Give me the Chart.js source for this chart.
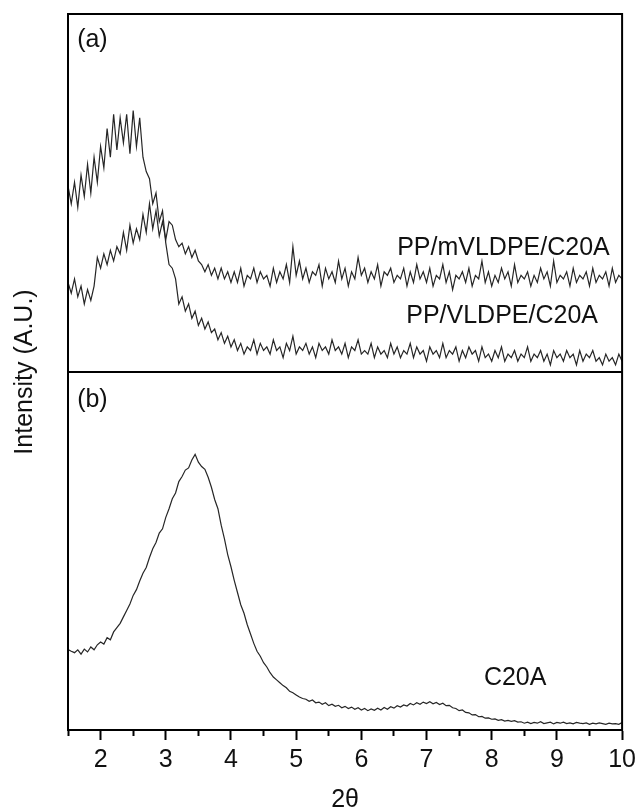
<!DOCTYPE html>
<html>
<head>
<meta charset="utf-8">
<title>XRD patterns</title>
<script src="https://cdn.jsdelivr.net/npm/chart.js@4.4.1/dist/chart.umd.min.js"></script>
<style>
  body { margin: 0; background: #fff; }
  #wrap { width: 641px; height: 811px; }
</style>
</head>
<body>
<div id="wrap"><canvas id="xrdChart"></canvas></div>
<script>
// scan grid (2theta, degrees)
const thetaStart = 1.5;
const thetaStep = 0.05;

// panel (a): PP/VLDPE/C20A, arbitrary units
const vldpe = [
  52,47,53,46,55,49,58,50,60,53,
  63,57,68,60,72,62,71,64,72,61,
  73,63,71,60,56,54,47,50,42,45,
  36,30,29,26,19,21,17,19,15,17,
  13,15,12,14,11,12,9,11,8,10,
  7,
  9,6,8,5,7,6,9,5,8,6, 7,5,9,6,7,4,8,6,10,5,
  7,6,8,5,7,4,8,6,7,5, 9,6,7,5,8,4,7,6,9,5,
  6,5,8,4,7,5,6,4,8,5, 7,4,6,5,8,4,7,5,6,3,
  7,5,6,4,8,4,6,5,7,3, 6,4,7,5,6,3,7,4,5,3,
  6,4,7,3,5,4,6,3,5,4, 7,3,5,4,6,3,5,2,6,4,
  5,3,6,4,5,2,6,3,5,4, 6,3,4,2,5,3,4,2,5,3
];

// panel (a): PP/mVLDPE/C20A
const mvldpe = [
  25,22,26,21,24,19,23,20,24,32,
  29,33,30,34,31,35,33,39,34,41,
  36,40,37,44,39,47,40,45,38,42,
  37,42,41,37,35,36,33,35,32,34,
  31,30,28,30,27,29,26,29,26,28,
  25,
  28,25,29,24,27,26,29,25,28,26, 27,24,29,25,28,26,30,25,35,27,
  31,26,29,25,28,27,30,24,29,26, 28,25,31,26,29,24,28,26,32,27,
  29,25,28,26,30,24,28,27,29,25, 27,26,29,24,28,25,30,26,28,25,
  29,24,27,26,30,25,28,23,27,26, 28,25,29,24,27,26,31,25,28,24,
  27,25,29,26,28,24,30,25,27,26, 28,24,27,25,29,26,28,24,31,25,
  27,26,28,24,29,25,27,26,28,24, 29,25,27,26,28,24,29,25,27,26
];

// panel (b): C20A
const c20a = [
  22.5,22.0,21.6,22.4,21.2,22.6,21.8,23.2,22.4,23.8,
  24.6,24.0,25.8,25.2,27.4,28.6,29.8,31.6,33.4,35.2,
  37.6,39.2,41.6,43.8,45.4,48.2,50.6,52.4,55.0,56.2,
  59.4,61.8,64.6,66.2,69.4,70.8,72.6,73.2,75.4,77.0,
  74.8,73.6,72.8,70.6,67.8,64.4,61.8,57.2,53.4,49.0,
  45.6,41.8,38.4,35.0,32.6,29.4,26.8,24.2,22.0,20.6,
  18.8,17.6,16.0,14.8,14.0,13.2,12.4,11.8,10.8,10.4,
  9.8,9.2,8.8,8.6,8.0,8.4,7.6,7.8,7.2,7.6,
  6.8,7.2,6.6,6.9,6.2,6.6,6.0,6.4,5.8,6.2,
  5.6,6.0,5.4,5.9,5.5,6.1,5.6,6.3,5.8,6.5,
  6.1,6.8,6.4,7.0,6.7,7.4,7.0,7.6,7.2,7.8,
  7.4,7.9,7.3,7.7,7.1,7.5,6.8,6.9,6.2,6.0,
  5.4,5.6,4.9,4.8,4.2,4.3,3.7,3.8,3.3,3.4,
  3.0,3.1,2.7,2.9,2.5,2.7,2.4,2.6,2.2,2.3,
  1.9,2.2,1.8,2.1,1.9,2.3,1.8,2.0,2.2,1.7,
  2.1,1.9,2.2,1.8,2.0,1.7,2.1,1.9,1.8,2.0,
  1.6,1.9,1.7,2.0,1.8,1.6,1.9,1.7,1.8,1.6,
  2.1
];

// x axis ticks (labels only on whole numbers)
const xTicks = [1.5,2,2.5,3,3.5,4,4.5,5,5.5,6,6.5,7,7.5,8,8.5,9,9.5,10];

const toPoints = arr => arr.map((v, i) => ({ x: +(thetaStart + i * thetaStep).toFixed(2), y: v }));

const FONT = 'Liberation Sans, Arial, sans-serif';

// text labels inside the panels
const panelLabels = {
  id: 'panelLabels',
  afterDatasetsDraw(chart, args, opts) {
    const ctx = chart.ctx;
    const xs = chart.scales.x;
    ctx.save();
    ctx.fillStyle = '#111';
    ctx.font = '25px ' + FONT;
    ctx.textBaseline = 'middle';
    opts.items.forEach(it => {
      ctx.textAlign = it.align;
      ctx.fillText(it.text, xs.getPixelForValue(it.x), chart.scales[it.axis].getPixelForValue(it.y));
    });
    ctx.restore();
  }
};

// box round both panels + the divider
const frame = {
  id: 'frame',
  afterDraw(chart) {
    const { ctx, chartArea: a } = chart;
    const mid = chart.scales.yA.bottom;
    ctx.save();
    ctx.strokeStyle = '#000';
    ctx.lineWidth = 2;
    ctx.strokeRect(a.left, a.top, a.right - a.left, a.bottom - a.top);
    ctx.beginPath();
    ctx.moveTo(a.left, mid);
    ctx.lineTo(a.right, mid);
    ctx.stroke();
    ctx.restore();
  }
};

const hiddenY = {
  type: 'linear',
  position: 'left',
  stack: 'panels',
  stackWeight: 1,
  min: 0,
  max: 100,
  ticks: { display: false },
  grid: { display: false, drawTicks: false },
  border: { display: false }
};

const lineStyle = { borderColor: '#262626', borderWidth: 1.2, pointRadius: 0, fill: false, tension: 0 };

new Chart(document.getElementById('xrdChart'), {
  type: 'line',
  data: {
    datasets: [
      Object.assign({ label: 'PP/VLDPE/C20A', data: toPoints(vldpe), yAxisID: 'yA' }, lineStyle),
      Object.assign({ label: 'PP/mVLDPE/C20A', data: toPoints(mvldpe), yAxisID: 'yA' }, lineStyle),
      Object.assign({ label: 'C20A', data: toPoints(c20a), yAxisID: 'yB' }, lineStyle)
    ]
  },
  options: {
    responsive: true,
    maintainAspectRatio: false,
    animation: false,
    layout: { padding: { top: 14, right: 13, left: 8, bottom: 0 } },
    plugins: {
      legend: { display: false },
      tooltip: { enabled: false },
      panelLabels: {
        items: [
          { text: '(a)', x: 1.64, y: 92.7, axis: 'yA', align: 'left' },
          { text: 'PP/mVLDPE/C20A', x: 9.81, y: 34.5, axis: 'yA', align: 'right' },
          { text: 'PP/VLDPE/C20A', x: 9.63, y: 15.6, axis: 'yA', align: 'right' },
          { text: '(b)', x: 1.64, y: 92.2, axis: 'yB', align: 'left' },
          { text: 'C20A', x: 7.88, y: 14.5, axis: 'yB', align: 'left' }
        ]
      }
    },
    scales: {
      x: {
        type: 'linear',
        min: 1.5,
        max: 10,
        afterBuildTicks: ax => { ax.ticks = xTicks.map(v => ({ value: v })); },
        afterFit: ax => { ax.height = 81; },
        grid: {
          drawOnChartArea: false,
          drawTicks: true,
          tickLength: 10,
          tickColor: '#000',
          tickWidth: 2,
          tickBorderDash: c => (Number.isInteger(c.tick.value) ? [] : [5, 20])
        },
        border: { display: true, color: '#000', width: 2 },
        ticks: {
          color: '#111',
          autoSkip: false,
          maxRotation: 0,
          padding: 5,
          font: { size: 25, family: FONT },
          callback: v => (Number.isInteger(v) ? v : '')
        },
        title: {
          display: true,
          text: '2θ',
          color: '#111',
          font: { size: 25, family: FONT, lineHeight: 0.88 },
          padding: { top: 0, bottom: 0 }
        }
      },
      yB: hiddenY,
      yA: Object.assign({}, hiddenY),
      yT: {
        type: 'linear',
        position: 'left',
        weight: 10,
        min: 0,
        max: 1,
        ticks: { display: false },
        grid: { display: false, drawTicks: false },
        border: { display: false },
        title: {
          display: true,
          text: 'Intensity (A.U.)',
          color: '#111',
          font: { size: 25, family: FONT },
          padding: { top: 2, bottom: 28 }
        }
      }
    }
  },
  plugins: [panelLabels, frame]
});
</script>
</body>
</html>
